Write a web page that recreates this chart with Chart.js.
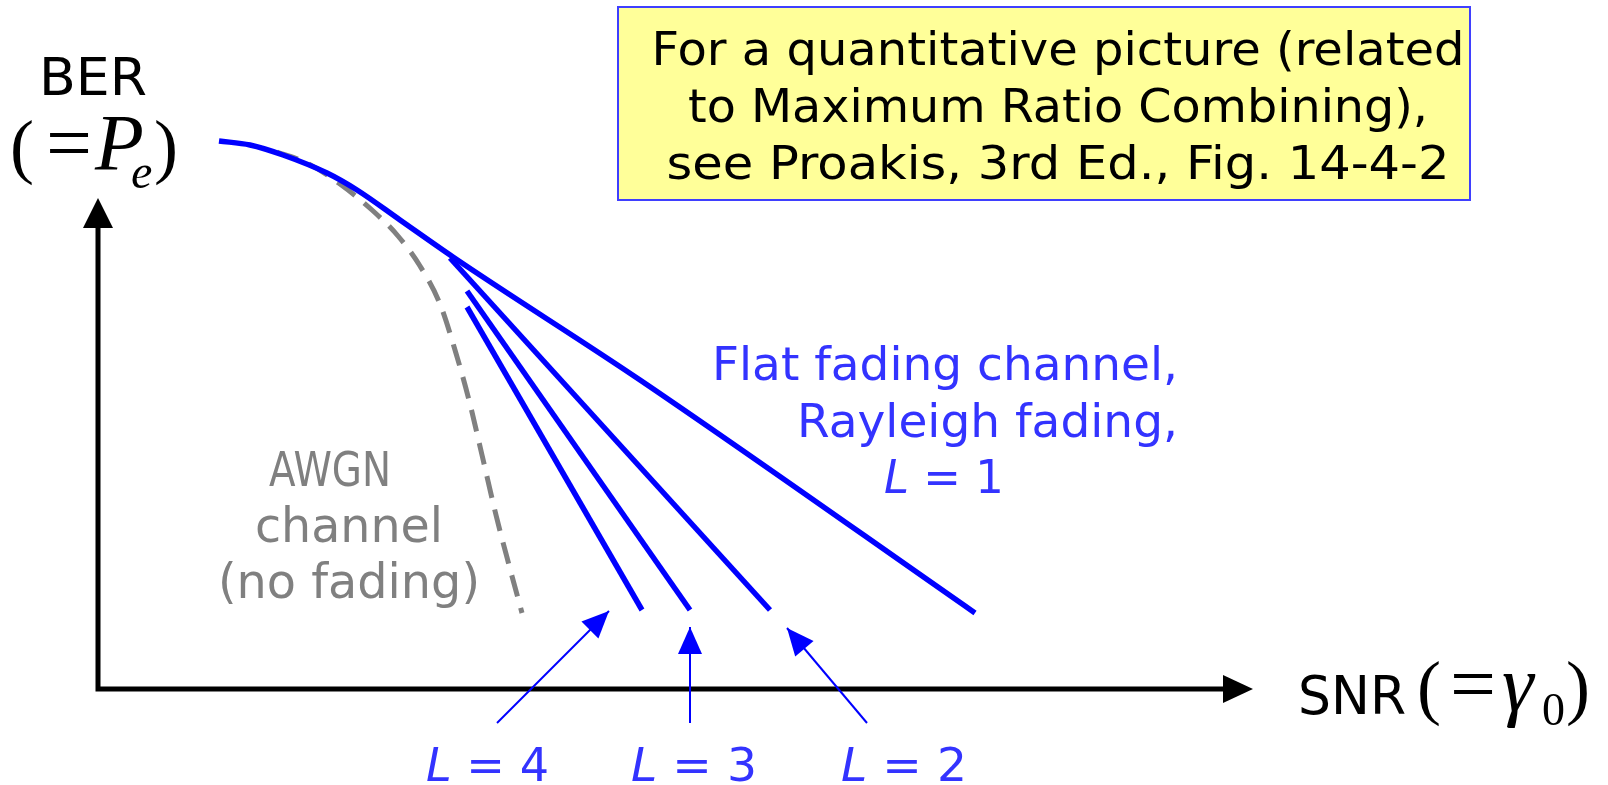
<!DOCTYPE html>
<html>
<head>
<meta charset="utf-8">
<title>BER vs SNR sketch</title>
<script src="https://cdn.jsdelivr.net/npm/chart.js@4.4.1/dist/chart.umd.min.js"></script>
<style>
  html, body { margin: 0; padding: 0; background: #fff; }
  #wrap { width: 1608px; height: 785px; position: relative; }
</style>
</head>
<body>
<div id="wrap"><canvas id="berChart"></canvas></div>
<script>
// curves, arbitrary units (0,0 = corner of the axes)
const flatSnr = [1.21, 1.52, 1.85, 2.29, 2.59, 3.02, 3.55, 5.42, 8.77]
const flatBer = [5.48, 5.44, 5.34, 5.16, 4.99, 4.69, 4.32, 3.09, 0.76]
const awgnSnr = [1.79, 2.09, 2.42, 2.74, 3.00, 3.22, 3.42, 3.57, 3.71, 3.84, 3.98, 4.11, 4.24]
const awgnBer = [5.37, 5.26, 5.05, 4.79, 4.53, 4.23, 3.85, 3.39, 2.89, 2.34, 1.74, 1.24, 0.76]
const l2Snr = [3.52, 6.72]
const l2Ber = [4.31, 0.79]
const l3Snr = [3.69, 5.92]
const l3Ber = [3.98, 0.79]
const l4Snr = [3.69, 5.44]
const l4Ber = [3.82, 0.79]

// pointer arrows under the L = 4 / 3 / 2 labels: [tail, tip]
const ptr4Snr = [3.99, 5.11]
const ptr4Ber = [-0.34, 0.78]
const ptr3Snr = [5.92, 5.92]
const ptr3Ber = [-0.34, 0.62]
const ptr2Snr = [7.69, 6.89]
const ptr2Ber = [-0.34, 0.61]

// length of the two axis arrows
const snrAxisEnd = 11.55
const berAxisEnd = 4.91

const SANS = "DejaVu Sans"
const SERIF = "Liberation Serif"
const BLUE = "#0000ff"
const TEXT_BLUE = "#3333ff"
const GREY = "#808080"

function pts(xs, ys) {
  return xs.map((v, i) => ({ x: v, y: ys[i] }))
}

// text made of runs (font changes), squeezed to a given width
function drawRuns(ctx, parts, x, base, width, align, color) {
  ctx.save()
  ctx.fillStyle = color
  ctx.textAlign = "left"
  ctx.textBaseline = "alphabetic"
  let total = 0
  parts.forEach((p) => {
    ctx.font = p[1]
    total += ctx.measureText(p[0]).width
  })
  let left = x
  if (align === "center") left = x - width / 2
  if (align === "right") left = x - width
  ctx.translate(left, base)
  ctx.scale(width / total, 1)
  let cx = 0
  parts.forEach((p) => {
    ctx.font = p[1]
    ctx.fillText(p[0], cx, 0)
    cx += ctx.measureText(p[0]).width
  })
  ctx.restore()
}

// equation-editor style bits: every glyph placed on its own (optional x stretch)
function drawMath(ctx, items) {
  items.forEach(([t, font, px, py, sx]) => {
    ctx.save()
    ctx.fillStyle = "#000"
    ctx.textAlign = "left"
    ctx.textBaseline = "alphabetic"
    ctx.font = font
    ctx.translate(px, py)
    ctx.scale(sx || 1, 1)
    ctx.fillText(t, 0, 0)
    ctx.restore()
  })
}

function arrowHead(ctx, fx, fy, tx, ty, len, half, color) {
  const a = Math.atan2(ty - fy, tx - fx)
  const bx = tx - len * Math.cos(a)
  const by = ty - len * Math.sin(a)
  ctx.save()
  ctx.fillStyle = color
  ctx.beginPath()
  ctx.moveTo(tx, ty)
  ctx.lineTo(bx + half * Math.sin(a), by - half * Math.cos(a))
  ctx.lineTo(bx - half * Math.sin(a), by + half * Math.cos(a))
  ctx.closePath()
  ctx.fill()
  ctx.restore()
}

const sketchPlugin = {
  id: "sketch",
  beforeDatasetsDraw(chart) {
    const { ctx } = chart
    const { x, y } = chart.scales

    // yellow note box
    ctx.save()
    ctx.fillStyle = "#ffff99"
    ctx.fillRect(618, 7, 852, 193)
    ctx.strokeStyle = "#3f3fff"
    ctx.lineWidth = 2
    ctx.strokeRect(618, 7, 852, 193)
    ctx.restore()

    // axes
    const ox = x.getPixelForValue(0)
    const oy = y.getPixelForValue(0)
    const xe = x.getPixelForValue(snrAxisEnd)
    const ye = y.getPixelForValue(berAxisEnd)
    ctx.save()
    ctx.strokeStyle = "#000"
    ctx.lineWidth = 5
    ctx.beginPath()
    ctx.moveTo(ox, oy + 2.5)
    ctx.lineTo(ox, ye + 20)
    ctx.moveTo(ox - 2.5, oy)
    ctx.lineTo(xe - 20, oy)
    ctx.stroke()
    ctx.restore()
    arrowHead(ctx, ox, oy, ox, ye, 30, 15, "#000")
    arrowHead(ctx, ox, oy, xe, oy, 30, 14, "#000")
  },
  afterDatasetsDraw(chart) {
    const { ctx } = chart
    const { x, y } = chart.scales

    // heads of the label pointers
    ;[[ptr4Snr, ptr4Ber], [ptr3Snr, ptr3Ber], [ptr2Snr, ptr2Ber]].forEach(([s, b]) => {
      arrowHead(ctx, x.getPixelForValue(s[0]), y.getPixelForValue(b[0]),
        x.getPixelForValue(s[1]), y.getPixelForValue(b[1]), 27, 12, BLUE)
    })

    // axis titles
    const m72 = `72px ${SERIF}`
    const m80 = `80px ${SERIF}`
    const i80 = `italic 80px ${SERIF}`
    drawRuns(ctx, [["BER", `52px ${SANS}`]], 93, 95, 108, "center", "#000")
    drawMath(ctx, [
      ["(", m72, 10, 170],
      ["=", m80, 46, 170, 1.02],
      ["P", i80, 95, 170],
      ["e", `italic 48px ${SERIF}`, 131, 188],
      [")", m72, 154, 170],
    ])
    drawRuns(ctx, [["SNR", `54px ${SANS}`]], 1298, 714, 108, "left", "#000")
    drawMath(ctx, [
      ["(", m72, 1417, 711],
      ["=", m80, 1450, 711, 1.02],
      ["\u03b3", i80, 1502, 711],
      ["0", `46px ${SERIF}`, 1542, 725],
      [")", m72, 1566, 711],
    ])

    // note text
    const f47 = `47px ${SANS}`
    drawRuns(ctx, [["For a quantitative picture (related", f47]], 1058, 65, 813, "center", "#000")
    drawRuns(ctx, [["to Maximum Ratio Combining),", f47]], 1058, 122, 740, "center", "#000")
    drawRuns(ctx, [["see Proakis, 3rd Ed., Fig. 14-4-2", f47]], 1058, 179, 783, "center", "#000")

    // curve labels
    drawRuns(ctx, [["Flat fading channel,", f47]], 1178, 380, 466, "right", TEXT_BLUE)
    drawRuns(ctx, [["Rayleigh fading,", f47]], 1178, 437, 381, "right", TEXT_BLUE)
    drawRuns(ctx, [["L", `italic 47px ${SANS}`], [" = 1", f47]], 884, 493, 120, "left", TEXT_BLUE)

    const g48 = `48px ${SANS}`
    drawRuns(ctx, [["AWGN", g48]], 330, 486, 122, "center", GREY)
    drawRuns(ctx, [["channel", g48]], 349, 542, 188, "center", GREY)
    drawRuns(ctx, [["(no fading)", g48]], 349, 598, 262, "center", GREY)

    drawRuns(ctx, [["L", `italic 47px ${SANS}`], [" = 4", f47]], 426, 781, 123, "left", TEXT_BLUE)
    drawRuns(ctx, [["L", `italic 47px ${SANS}`], [" = 3", f47]], 631, 781, 126, "left", TEXT_BLUE)
    drawRuns(ctx, [["L", `italic 47px ${SANS}`], [" = 2", f47]], 841, 781, 126, "left", TEXT_BLUE)
  },
}

const thick = {
  borderColor: BLUE,
  borderWidth: 5.5,
  borderCapStyle: "butt",
  pointRadius: 0,
  fill: false,
}
const thin = {
  borderColor: BLUE,
  borderWidth: 2,
  pointRadius: 0,
  fill: false,
}

new Chart(document.getElementById("berChart"), {
  type: "line",
  data: {
    datasets: [
      { ...thick, label: "L = 1", data: pts(flatSnr, flatBer), cubicInterpolationMode: "monotone" },
      { ...thick, label: "L = 2", data: pts(l2Snr, l2Ber) },
      { ...thick, label: "L = 3", data: pts(l3Snr, l3Ber) },
      { ...thick, label: "L = 4", data: pts(l4Snr, l4Ber) },
      { ...thin, label: "ptr 4", data: pts(ptr4Snr, ptr4Ber) },
      { ...thin, label: "ptr 3", data: pts(ptr3Snr, ptr3Ber) },
      { ...thin, label: "ptr 2", data: pts(ptr2Snr, ptr2Ber) },
      {
        label: "AWGN",
        data: pts(awgnSnr, awgnBer),
        borderColor: GREY,
        borderWidth: 5,
        borderDash: [22, 12],
        borderCapStyle: "butt",
        pointRadius: 0,
        fill: false,
        cubicInterpolationMode: "monotone",
      },
    ],
  },
  options: {
    responsive: true,
    maintainAspectRatio: false,
    animation: false,
    layout: { padding: 0 },
    plugins: {
      legend: { display: false },
      tooltip: { enabled: false },
    },
    scales: {
      x: { type: "linear", min: -0.98, max: 15.1, display: false },
      y: { type: "linear", min: -0.96, max: 6.89, display: false },
    },
  },
  plugins: [sketchPlugin],
})
</script>
</body>
</html>
